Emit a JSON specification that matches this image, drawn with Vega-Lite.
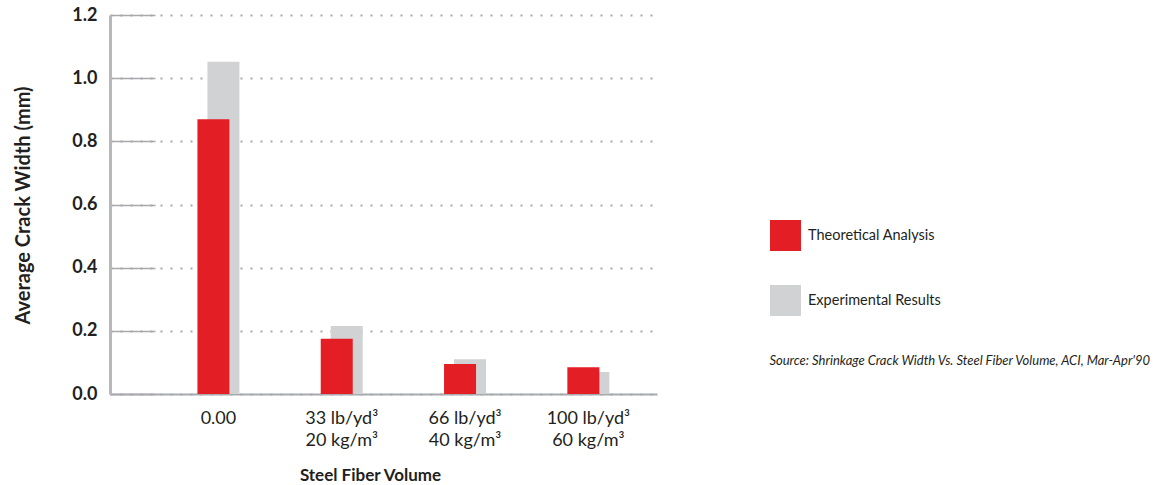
{
  "$schema": "https://vega.github.io/schema/vega-lite/v6.json",
  "width": 547,
  "height": 379,
  "autosize": "none",
  "padding": {"left": 110, "top": 15, "right": 501, "bottom": 91},
  "background": "white",
  "config": {"font": "Lato", "view": {"stroke": null}},
  "title": {
    "text": "Source: Shrinkage Crack Width Vs. Steel Fiber Volume, ACI, Mar-Apr'90",
    "orient": "top",
    "anchor": "end",
    "frame": "group",
    "fontStyle": "italic",
    "fontWeight": "normal",
    "fontSize": 13,
    "color": "#231f20",
    "offset": 0,
    "baseline": "alphabetic",
    "dx": 493,
    "dy": 372
  },
  "data": {
    "values": [
      {"volume": "0.00", "series": "Theoretical Analysis", "width": 0.87},
      {"volume": "0.00", "series": "Experimental Results", "width": 1.052},
      {"volume": "33 lb/yd³|20 kg/m³", "series": "Theoretical Analysis", "width": 0.175},
      {"volume": "33 lb/yd³|20 kg/m³", "series": "Experimental Results", "width": 0.215},
      {"volume": "66 lb/yd³|40 kg/m³", "series": "Theoretical Analysis", "width": 0.095},
      {"volume": "66 lb/yd³|40 kg/m³", "series": "Experimental Results", "width": 0.11},
      {"volume": "100 lb/yd³|60 kg/m³", "series": "Theoretical Analysis", "width": 0.085},
      {"volume": "100 lb/yd³|60 kg/m³", "series": "Experimental Results", "width": 0.07}
    ]
  },
  "encoding": {
    "x": {
      "field": "volume",
      "type": "nominal",
      "sort": null,
      "scale": {"type": "band", "paddingInner": 0, "paddingOuter": 0.218, "align": 0.87},
      "axis": {
        "title": "Steel Fiber Volume",
        "labelExpr": "split(datum.label, '|')",
        "labelAngle": 0,
        "labelFontSize": 18,
        "labelColor": "#231f20",
        "labelPadding": 29,
        "labelLineHeight": 22,
        "labelBaseline": "alphabetic",
        "ticks": false,
        "domainColor": "#a7a9ac",
        "domainWidth": 2,
        "titleFontSize": 17,
        "titleFontWeight": "bold",
        "titleColor": "#231f20",
        "titleX": 260,
        "titleY": 86,
        "titleAlign": "center",
        "titleBaseline": "alphabetic"
      }
    },
    "y": {
      "field": "width",
      "type": "quantitative",
      "scale": {"domain": [0, 1.2], "nice": false},
      "axis": {
        "values": [0, 0.2, 0.4, 0.6, 0.8, 1.0, 1.2],
        "format": ".1f",
        "title": "Average Crack Width (mm)",
        "titleX": -87,
        "titleY": 190,
        "titleAngle": -90,
        "titleAlign": "center",
        "titleBaseline": "middle",
        "titleFontSize": 20,
        "titleFontWeight": "bold",
        "titleColor": "#231f20",
        "labelFontSize": 18,
        "labelFontWeight": "bold",
        "labelColor": "#231f20",
        "labelPadding": 58,
        "tickSize": -45,
        "tickColor": "#a7a9ac",
        "tickWidth": 1.5,
        "domainColor": "#b7b8ba",
        "domainWidth": 3,
        "grid": true,
        "gridDash": [2, 8],
        "gridColor": "#a7a9ac",
        "gridWidth": 2
      }
    },
    "color": {
      "field": "series",
      "type": "nominal",
      "scale": {"domain": ["Theoretical Analysis", "Experimental Results"], "range": ["#e31e24", "#d1d2d4"]},
      "legend": {
        "orient": "none",
        "legendX": 660,
        "legendY": 205,
        "title": null,
        "symbolType": "square",
        "symbolSize": 961,
        "symbolStrokeWidth": 0,
        "symbolOpacity": 1,
        "labelFontSize": 14.5,
        "labelColor": "#231f20",
        "rowPadding": 34,
        "labelOffset": 7
      }
    }
  },
  "layer": [
    {
      "transform": [{"filter": "datum.series === 'Experimental Results'"}],
      "mark": {"type": "bar", "width": 32, "xOffset": 5}
    },
    {
      "transform": [{"filter": "datum.series === 'Theoretical Analysis'"}],
      "mark": {"type": "bar", "width": 32, "xOffset": -5}
    }
  ]
}
